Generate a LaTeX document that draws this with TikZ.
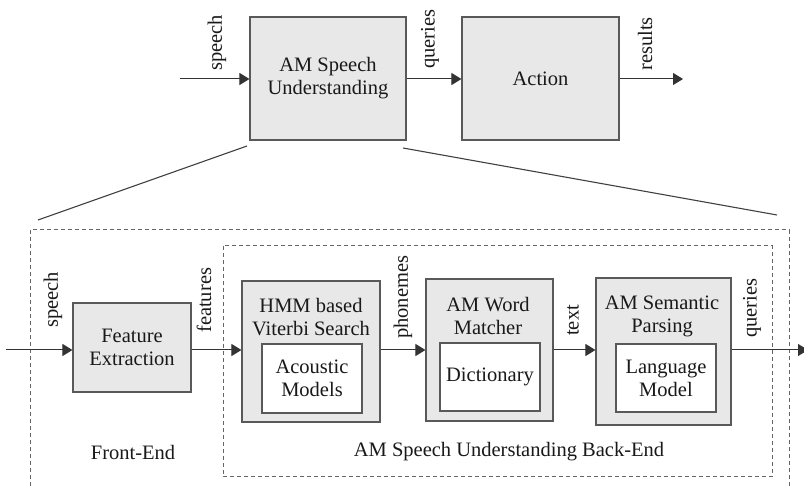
\documentclass[tikz,border=0pt]{standalone}
\usepackage{fontspec}
\setmainfont{Liberation Serif}
\usetikzlibrary{arrows.meta}
\begin{document}
\begin{tikzpicture}[x=1pt,y=-1pt,
  every node/.style={font=\fontsize{20.5}{23}\selectfont, text=black!90},
  block/.style={draw=black!65, line width=1.1pt, fill=black!9, inner sep=0pt},
  inbox/.style={draw=black!65, line width=1.1pt, fill=white, inner sep=0pt, align=center},
  flow/.style={draw=black!80, line width=1pt, -{Triangle[length=10pt,width=12pt]}},
  tag/.style={rotate=90, anchor=west, inner sep=0pt},
  frame/.style={draw=black!60, line width=1pt, dash pattern=on 4pt off 3pt},
  zoomline/.style={draw=black!75, line width=1.1pt}]
\useasboundingbox (0,0) rectangle (804,486);
\clip (0,0) rectangle (804,486);

% top level
\node[block, minimum width=156pt, minimum height=123pt, align=center] (asu) at (328,78.5) {AM Speech\\Understanding};
\node[block, minimum width=157pt, minimum height=123pt] (act) at (540.5,78.5) {Action};
\coordinate (tin) at (180,79);
\coordinate (tout) at (683,79);
\draw[flow] (tin) -- (asu.west |- tin);
\draw[flow] (asu.east |- tin) -- (act.west |- tin);
\draw[flow] (act.east |- tin) -- (tout);
\node[tag] at (217,71) {speech};
\node[tag] at (430,69) {queries};
\node[tag] at (645,71) {results};

% zoom lines
\coordinate (zl1) at (247,146);
\coordinate (zl2) at (38,220);
\coordinate (zr1) at (403,148);
\coordinate (zr2) at (777,215);
\draw[zoomline] (zl1) -- (zl2);
\draw[zoomline] (zr1) -- (zr2);

% dashed frames
\draw[frame] (30,500) -- (30,230) -- (789,230) -- (789,500);
\draw[frame] (223,246) rectangle (772,477);

% front end
\node[block, minimum width=118pt, minimum height=89pt, align=center] (fe) at (132,347.5) {Feature\\Extraction};

% back end blocks
\node[block, minimum width=138pt, minimum height=141pt] (hmm) at (311,351.5) {};
\node[align=center, inner sep=0pt] (hmmt) at (311,317.5) {HMM based\\Viterbi Search};
\node[inbox, minimum width=100pt, minimum height=69pt] (am) at (312,378.5) {Acoustic\\Models};

\node[block, minimum width=127pt, minimum height=142pt] (wm) at (489.5,350) {};
\node[align=center, inner sep=0pt] (wmt) at (488,316) {AM Word\\Matcher};
\node[inbox, minimum width=100pt, minimum height=68pt] (dict) at (490,377) {Dictionary};

\node[block, minimum width=135pt, minimum height=147pt] (sp) at (663.5,351.5) {};
\node[align=center, inner sep=0pt] (spt) at (662,316.5) {AM Semantic\\Parsing};
\node[inbox, minimum width=100pt, minimum height=68pt] (lm) at (666,378) {Language\\Model};

% bottom flow
\coordinate (bin) at (6,350);
\coordinate (bout) at (808,350);
\draw[flow] (bin) -- (fe.west |- bin);
\draw[flow] (fe.east |- bin) -- (hmm.west |- bin);
\draw[flow] (hmm.east |- bin) -- (wm.west |- bin);
\draw[flow] (wm.east |- bin) -- (sp.west |- bin);
\draw[flow] (sp.east |- bin) -- (bout);

\node[tag] at (53,328) {speech};
\node[tag] at (204,333) {features};
\node[tag] at (403,339) {phonemes};
\node[tag] at (573,336) {text};
\node[tag] at (752,338) {queries};

\node (fel) at (133,452) {Front-End};
\node (bel) at (509,452) {AM Speech Understanding Back-End};
\end{tikzpicture}
\end{document}
